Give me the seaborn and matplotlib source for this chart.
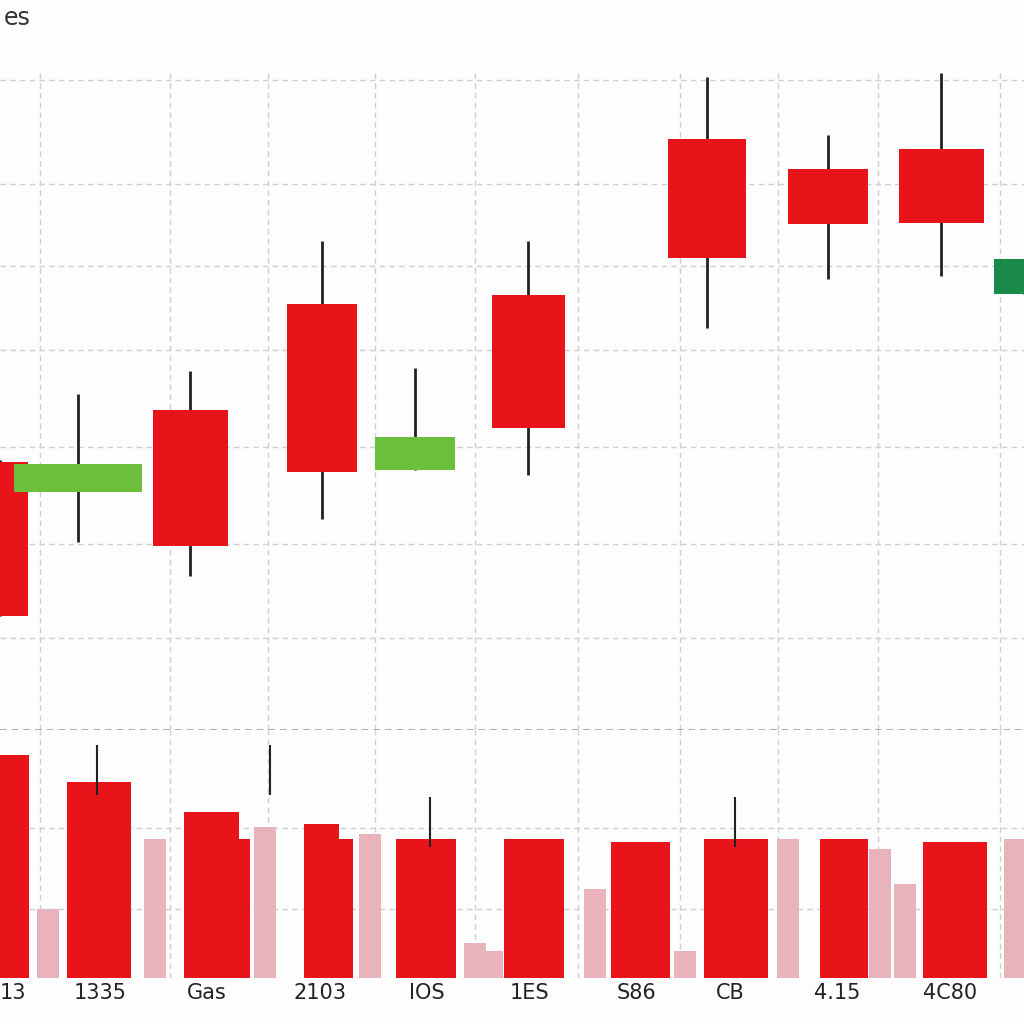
import matplotlib
matplotlib.use("Agg")
import matplotlib.pyplot as plt
import seaborn as sns
import pandas as pd

# --- data ---
candle_x = [0.0, 0.78, 1.90, 3.22, 4.15, 5.28, 7.07, 8.28, 9.41, 10.24]
candle_w = [0.55, 1.28, 0.75, 0.70, 0.80, 0.73, 0.78, 0.79, 0.85, 0.60]
opens = [128.7, 125.5, 134.3, 145.7, 127.9, 146.6, 163.4, 160.1, 162.3, 146.8]
closes = [112.2, 128.5, 119.7, 127.7, 131.4, 132.4, 150.6, 154.3, 154.4, 150.5]
highs = [129.0, 136.0, 138.5, 152.4, 138.8, 152.4, 170.0, 163.8, 170.4, 150.5]
lows = [112.2, 120.2, 116.5, 122.6, 127.9, 127.4, 143.1, 148.4, 148.7, 146.8]

vol_x = [0.13, 0.99, 2.11, 2.37, 3.21, 3.38, 4.26, 5.34, 6.40, 7.36, 8.44, 9.55]
vol_w = [0.32, 0.64, 0.55, 0.25, 0.35, 0.30, 0.60, 0.60, 0.59, 0.64, 0.48, 0.64]
volumes = [90, 79, 67, 56, 62, 56, 56, 56, 55, 56, 56, 55]
pale_x = [0.48, 1.55, 2.65, 3.70, 4.75, 4.92, 5.95, 6.85, 7.88, 8.80, 9.05, 10.15]
pale_v = [28, 56, 61, 58, 14, 11, 36, 11, 56, 52, 38, 56]
vol_wick_x = [0.97, 2.70, 4.30, 7.35]
vol_wick_top = [94, 94, 73, 73]

grid_x = [0.40, 1.70, 2.68, 3.75, 4.75, 5.78, 6.80, 7.78, 8.78, 10.0]
grid_y = [109.9, 119.9, 130.3, 140.7, 149.8, 158.5, 169.7]
label_x = [0.13, 1.00, 2.07, 3.20, 4.27, 5.30, 6.37, 7.30, 8.37, 9.50]
labels = ["13", "1335", "Gas", "2103", "IOS", "1ES", "S86", "CB", "4.15", "4C80"]

df = pd.DataFrame({"x": candle_x, "w": candle_w, "open": opens,
                   "close": closes, "high": highs, "low": lows})

sns.set_theme(style="whitegrid")
plt.rcParams["grid.linestyle"] = (0, (4, 3))
plt.rcParams["grid.color"] = "#cfcfcf"
plt.rcParams["grid.linewidth"] = 1.0

fig = plt.figure(figsize=(10.24, 10.24), dpi=100)
fig.patch.set_facecolor("#fdfdfd")
ax = fig.add_axes([0, 0.287, 1, 0.645])
axv = fig.add_axes([0, 0.045, 1, 0.242], sharex=ax)

for a in (ax, axv):
    a.set_facecolor("#fdfdfd")
    for s in a.spines.values():
        s.set_visible(False)

# --- candles ---
for _, r in df.iterrows():
    up = r["close"] >= r["open"]
    color = "#6cbf3a" if up else "#e8141a"
    if r["x"] > 10:
        color = "#1a8a4a"
    ax.vlines(r["x"], r["low"], r["high"], color="#222222", lw=2, zorder=2)
    lo, hi = min(r["open"], r["close"]), max(r["open"], r["close"])
    ax.bar(r["x"], hi - lo, bottom=lo, width=r["w"], color=color,
           linewidth=0, zorder=3)

ax.set_xlim(0, 10.24)
ax.set_ylim(100, 170.8)
ax.set_xticks(grid_x)
ax.set_yticks(grid_y)
ax.tick_params(labelbottom=False, labelleft=False, length=0)
ax.axhline(100, color="#a0a0a0", lw=1.2, ls=(0, (4, 3)))

# --- volume ---
axv.bar(pale_x, pale_v, width=0.22, color="#e9b3bb", linewidth=0, zorder=2)
axv.bar(vol_x, volumes, width=vol_w, color="#e8141a", linewidth=0, zorder=3)
axv.vlines(vol_wick_x, [v - 20 for v in vol_wick_top], vol_wick_top,
           color="#222222", lw=1.5, zorder=4)
axv.set_ylim(0, 100)
axv.set_yticks([28, 60.5])
axv.set_xticks(grid_x)
axv.set_xticks(label_x, minor=True)
axv.set_xticklabels(labels, minor=True, fontsize=15, color="#222222")
axv.tick_params(which="major", labelbottom=False, labelleft=False, length=0)
axv.tick_params(which="minor", length=0, pad=4)
axv.grid(which="minor", visible=False)

fig.text(0.004, 0.982, "es", ha="left", va="center",
         fontsize=17, color="#333333")

fig.savefig("out.png", dpi=100, facecolor=fig.get_facecolor())
